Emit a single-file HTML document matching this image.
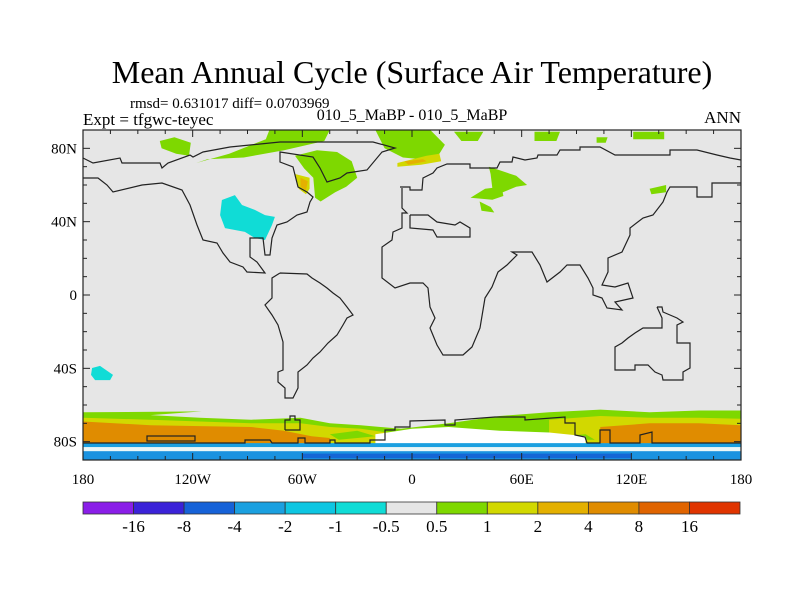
<!DOCTYPE html>
<html><head><meta charset="utf-8"><style>
html,body{margin:0;padding:0;background:#fff;}
svg{display:block;font-family:"Liberation Serif",serif;}
</style></head><body>
<svg id="chart" width="800" height="600" viewBox="0 0 800 600">
<text x="412" y="83" text-anchor="middle" font-size="32">Mean Annual Cycle (Surface Air Temperature)</text>
<text x="130" y="108" font-size="15">rmsd= 0.631017 diff= 0.0703969</text>
<text x="83" y="125" font-size="17">Expt = tfgwc-teyec</text>
<text x="412" y="120" text-anchor="middle" font-size="16">010_5_MaBP - 010_5_MaBP</text>
<text x="741" y="123" text-anchor="end" font-size="17">ANN</text>
<defs><clipPath id="clip"><rect x="83" y="130" width="658" height="330"/></clipPath></defs>
<rect x="83" y="130" width="658" height="330" fill="#e6e6e6"/>
<g id="field" clip-path="url(#clip)"></g>
<g fill="none" stroke="#222" stroke-width="1.2" clip-path="url(#clip)">
<polyline points="83,178 98,178 107,185 113,192 142,185 162,183 182,190 190,205 197,225 203,240 217,243 223,253 230,262 243,267 247,272 265,273 257,262 250,257 250,238 263,238 265,255 270,255 272,238 277,225 287,222 297,215 307,212 310,202 313,197 307,192 298,187 293,167 280,162 280,152 313,157 320,168 327,182 340,178 347,173 367,170 382,152 395,148 373,142 280,142 230,147 203,152 193,157 190,155 168,163 162,168 160,163 122,163 120,158 93,163 83,158"/>
<polyline points="280,273 307,274 312,278 320,283 327,288 333,293 340,298 347,307 353,315 347,318 343,325 337,335 328,343 320,352 313,358 307,365 298,372 298,388 293,398 285,398 285,388 278,382 278,372 283,370 283,342 278,325 272,315 265,305 272,298 272,278 280,273"/>
<polyline points="402,188 402,208 407,213 402,213 402,228 393,232 392,240 382,247 382,278 395,288 410,283 423,283 428,288 430,307 435,318 430,328 437,345 443,355 463,355 472,347 480,328 485,298 492,287 498,272 507,265 517,255 512,252 532,252 540,265 547,282 560,272 567,265 580,265 588,278 593,288 593,295 602,298 607,308 622,310 615,302 633,298 628,283 615,287 602,285 608,272 608,258 622,252 630,235 630,228 643,218 653,215 663,202 667,192 670,187 697,187 697,197 712,197 712,183 741,183"/>
<polyline points="741,160 730,158 717,155 697,150 670,150 670,155 615,155 600,147 580,147 580,150 560,150 557,155 538,155 537,158 525,160 513,157 512,162 500,162 497,168 470,168 470,164 447,164 437,168 433,173 423,178 422,190 410,190 410,187 400,187"/>
<polyline points="410,215 428,215 437,222 455,225 460,222 470,228 470,237 437,237 433,230 410,228 410,215"/>
<polyline points="657,307 662,307 663,312 670,315 677,318 683,322 677,325 677,343 690,343 690,368 683,372 683,380 663,380 662,375 655,372 648,365 635,365 635,370 615,370 615,347 622,343 628,338 635,333 643,328 662,328 662,318 657,307"/>
<polyline points="83,443 245,443 245,440 270,440 272,443 298,443 298,438 305,438 305,443 315,443 320,443 330,443 330,440 335,440 335,443 370,443 370,440 385,440 385,430 395,430 395,427 410,427 410,421 445,420 445,425 455,425 455,420 495,417 525,417 525,420 565,417 565,423 575,423 575,435 585,437 587,443 600,443 600,430 610,430 610,443 640,443 640,435 652,432 652,443 741,443"/>
<rect x="147" y="436" width="48" height="5"/>
<polyline points="285,430 285,420 290,420 290,416 295,416 295,420 300,420 300,430 285,430"/>
</g>
<rect x="83" y="130" width="658" height="330" fill="none" stroke="#222" stroke-width="1.2"/>
<g id="axes"></g>
<g id="colorbar"></g>
</svg>
<script>
const levelLabels = ["-16","-8","-4","-2","-1","-0.5","0.5","1","2","4","8","16"];
const levelColors = ["#8a1ee8","#3b22d8","#1662d8","#1ba0e0","#0ec6e2","#10dcd6","#e6e6e6","#7ed800","#d2d800","#e4b000","#e08c00","#e06400","#e03400"];
const lonTicks = [-180,-120,-60,0,60,120,180];
const lonTickLabels = ["180","120W","60W","0","60E","120E","180"];
const latTicks = [80,40,0,-40,-80];
const latTickLabels = ["80N","40N","0","40S","80S"];
// field patches: colour index per patch and [lon,lat] outlines
const patchColors = [7,7,7,7,7,7,7,7,7,7,7,7,7,8,9,8,9,5,5];
const patchShapes = [
 [[-115,-63.5],[-143,-65.5],[-116,-67],[-88,-68],[-61,-67],[-45,-70],[-28,-71],[-6,-73],[20,-70],[48,-66],[75,-64],[103,-62.5],[130,-64],[157,-63],[180,-63],[180,-81],[-180,-81],[-180,-64]],
 [[-118,72],[-100,77],[-80,85],[-78,90],[-45,90],[-48,84],[-70,79],[-92,75],[-112,74]],
 [[-64,76],[-52,79],[-41,78],[-33,73],[-30,64],[-36,59],[-42,56],[-50,51],[-53,53],[-54,64],[-59,69]],
 [[-20,90],[10,90],[18,82],[15,77],[5,74],[-5,75],[-15,80]],
 [[-138,84],[-130,86],[-121,83],[-122,76],[-129,77],[-137,80]],
 [[23,89],[39,89],[36,84],[27,84]],
 [[67,89],[81,89],[79,84],[67,84]],
 [[101,86],[107,86],[106,83],[101,83]],
 [[121,89],[138,89],[138,85],[121,85]],
 [[42,70],[48,68],[57,65],[63,60],[57,59],[47,55],[44,58],[43,66]],
 [[32,53],[40,58],[49,59],[50,54],[44,52]],
 [[37,51],[43,48],[45,45],[38,46]],
 [[130,58],[139,60],[139,56],[131,55]],
 [[-64,66],[-56,64],[-56,58],[-58,55],[-62,58]],
 [[-61,64],[-57,62],[-58,57],[-61,59]],
 [[-8,72],[8,76],[15,77],[16,73],[5,71],[-8,70]],
 [[-4,73],[6,74],[8,73],[-2,71]],
 [[-104,51.8],[-96.9,54.5],[-93,49.1],[-86,46.4],[-80.4,43.6],[-75,42.6],[-76.6,38.2],[-80.4,30],[-86,31.1],[-91.4,34.4],[-102.3,36.5],[-105,43.6]],
 [[-175,-39.8],[-170.7,-38.7],[-163.6,-43.6],[-165.2,-46.4],[-173.4,-46.4],[-175.6,-43.6]]
];
const southColors = [8,10,8,10,7,7,7,4,4];
const southShapes = [
 [[-180,-67],[-143,-68],[-116,-69],[-88,-70],[-61,-70],[-45,-72],[-28,-73],[-6,-76],[-6,-81],[-180,-81]],
 [[-180,-69],[-143,-71],[-116,-71.5],[-88,-72],[-70,-74],[-55,-77],[-45,-78],[-45,-81],[-180,-81]],
 [[75,-68],[103,-66],[130,-67],[157,-67],[180,-67.5],[180,-81],[75,-81]],
 [[103,-72],[130,-70],[157,-70],[180,-71],[180,-81],[103,-81]],
 [[20,-76],[28,-75],[32,-77],[22,-78]],
 [[-45,-76],[-30,-74],[-20,-77],[-40,-79]],
 [[80,-77],[95,-76],[100,-79],[85,-79]],
 [[35,-79],[48,-78],[52,-80],[38,-80.5]],
 [[60,-79],[80,-78.5],[85,-80.5],[62,-80.5]]
];
const whiteShapes = [
 [[-20,-76],[0,-73],[20,-72],[48,-74],[75,-75],[95,-77],[95,-81],[-20,-81]]
];
const strips = [[-80.8,-83,"#1aa0e0"],[-83,-85.2,"#eaf7f8"],[-85.2,-90,"#1a92e0"],[-86.5,-89,"#1566d5"]];
const NS="http://www.w3.org/2000/svg";
function X(lon){return 83+(lon+180)*658/360;}
function Y(lat){return 130+(90-lat)*330/180;}
function poly(g,shape,fill,name){
 const p=document.createElementNS(NS,"polygon");
 p.setAttribute("points",shape.map(c=>X(c[0]).toFixed(1)+","+Y(c[1]).toFixed(1)).join(" "));
 p.setAttribute("fill",fill);
 
 
 g.appendChild(p);
}
const field=document.getElementById("field");
poly(field,patchShapes[0],levelColors[patchColors[0]],"field-patch");
southShapes.forEach((s,i)=>poly(field,s,levelColors[southColors[i]],"field-band-south"));
whiteShapes.forEach(s=>poly(field,s,"#ffffff","field-white-region"));
patchShapes.forEach((s,i)=>{ if(i>0) poly(field,s,levelColors[patchColors[i]],"field-patch"); });
strips.forEach(s=>{
 const r=document.createElementNS(NS,"rect");
 const dark=s[2]==="#1566d5";
 r.setAttribute("x",dark?X(-60):X(-180));
 r.setAttribute("width",dark?X(120)-X(-60):658);
 r.setAttribute("y",Y(s[0]));r.setAttribute("height",Y(s[1])-Y(s[0]));
 r.setAttribute("fill",s[2]);
 
 
 field.appendChild(r);
});
const axes=document.getElementById("axes");
function line(x1,y1,x2,y2,name){
 const l=document.createElementNS(NS,"line");
 l.setAttribute("x1",x1);l.setAttribute("y1",y1);l.setAttribute("x2",x2);l.setAttribute("y2",y2);
 l.setAttribute("stroke","#222");l.setAttribute("stroke-width","1");
 
 
 axes.appendChild(l);
}
function text(x,y,s,anchor,size,name,parent){
 const t=document.createElementNS(NS,"text");
 t.setAttribute("x",x);t.setAttribute("y",y);t.setAttribute("text-anchor",anchor);t.setAttribute("font-size",size);
 t.textContent=s;
 
 
 parent.appendChild(t);
}
for(let lon=-180;lon<=180;lon+=15){
 const big=lon%60===0, L=big?7:4;
 line(X(lon),460,X(lon),460-L,"x-tick");
 line(X(lon),130,X(lon),130+L,"x-tick");
}
for(let lat=-90;lat<=90;lat+=10){
 const big=lat%40===0, L=big?7:4;
 line(83,Y(lat),83+L,Y(lat),"y-tick");
 line(741,Y(lat),741-L,Y(lat),"y-tick");
}
lonTicks.forEach((v,i)=>text(X(v),484,lonTickLabels[i],"middle",15,"x-tick-label",axes));
latTicks.forEach((v,i)=>text(77,Y(v)+5,latTickLabels[i],"end",15,"y-tick-label",axes));
const cb=document.getElementById("colorbar");
const cbX=83,cbW=657,cbY=502,cbH=12,n=levelColors.length,bw=cbW/n;
levelColors.forEach((c,i)=>{
 const r=document.createElementNS(NS,"rect");
 r.setAttribute("x",cbX+i*bw);r.setAttribute("y",cbY);r.setAttribute("width",bw);r.setAttribute("height",cbH);
 r.setAttribute("fill",c);r.setAttribute("stroke","#333");r.setAttribute("stroke-width","0.8");
 
 
 cb.appendChild(r);
});
levelLabels.forEach((s,i)=>text(cbX+(i+1)*bw,532,s,"middle",17,"colorbar-label",cb));
</script>
</body></html>
